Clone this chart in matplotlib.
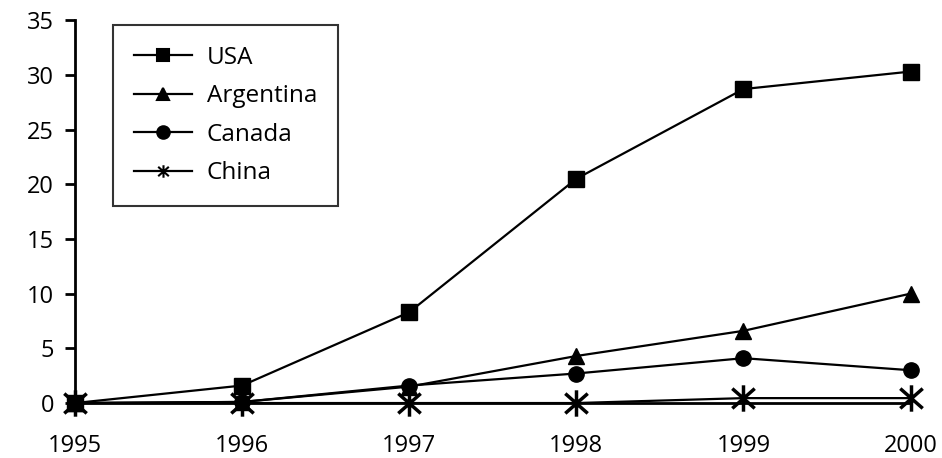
import matplotlib
matplotlib.use("Agg")
import matplotlib.pyplot as plt
from matplotlib.path import Path

years = [1995, 1996, 1997, 1998, 1999, 2000]
usa = [0.0, 1.6, 8.3, 20.5, 28.7, 30.3]
argentina = [0.0, 0.1, 1.5, 4.3, 6.6, 10.0]
canada = [0.0, 0.1, 1.6, 2.7, 4.1, 3.0]
china = [0.0, 0.0, 0.0, 0.0, 0.45, 0.45]

# asterisk marker: vertical bar plus an X
star = Path([(0, -1), (0, 1), (-0.85, -0.75), (0.85, 0.75), (-0.85, 0.75), (0.85, -0.75)],
            [Path.MOVETO, Path.LINETO, Path.MOVETO, Path.LINETO, Path.MOVETO, Path.LINETO])

plt.rcParams['font.family'] = ['Open Sans', 'DejaVu Sans']

fig = plt.figure(figsize=(9.42, 4.58), dpi=100)
ax = fig.add_axes([0.0796, 0.12, 0.887, 0.836])

ax.plot(years, usa, color='black', lw=1.6, marker='s', ms=11, label='USA', clip_on=False)
ax.plot(years, argentina, color='black', lw=1.6, marker='^', ms=12, label='Argentina', clip_on=False)
ax.plot(years, canada, color='black', lw=1.6, marker='o', ms=11, label='Canada', clip_on=False)
ax.plot(years, china, color='black', lw=1.6, marker=star, ms=19, mew=2.5, label='China', clip_on=False)

ax.set_xlim(1995, 2000)
ax.set_ylim(0, 35)
ax.set_yticks(range(0, 36, 5))
ax.set_xticks(years)
ax.tick_params(axis='y', direction='out', length=7, width=2, labelsize=17, pad=8)
ax.tick_params(axis='x', length=0, labelsize=17, pad=22)
for s in ['top', 'right']:
    ax.spines[s].set_visible(False)
for s in ['left', 'bottom']:
    ax.spines[s].set_linewidth(2)

leg = ax.legend(loc='upper left', bbox_to_anchor=(0.04, 1.0), fontsize=17.5,
                frameon=True, fancybox=False, edgecolor='black', handlelength=2.4,
                labelspacing=0.6, borderpad=0.85, handletextpad=0.6, borderaxespad=0.2)
leg.get_frame().set_linewidth(1.5)
for h in leg.legend_handles:
    h.set_markersize(9)
    h.set_markeredgewidth(1.5)

fig.savefig('out.png', dpi=100)
